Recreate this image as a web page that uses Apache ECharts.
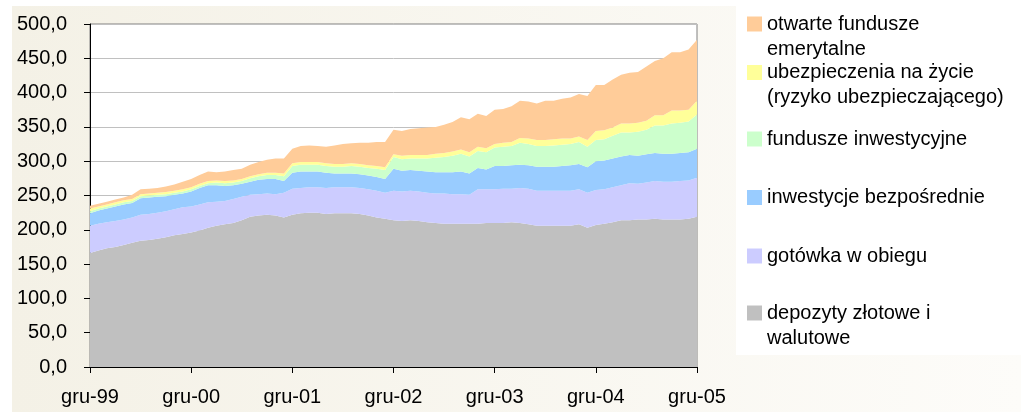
<!DOCTYPE html>
<html>
<head>
<meta charset="utf-8">
<script src="https://cdn.jsdelivr.net/npm/echarts@6/dist/echarts.min.js"></script>
<style>
html,body{margin:0;padding:0;background:#fff;}
#chart{width:1021px;height:412px;}
</style>
</head>
<body>
<div id="chart"></div>
<script>
// Month abbreviations (Polish) used for category labels; data monthly Dec 1999 - Dec 2005
var monthNames = ['sty','lut','mar','kwi','maj','cze','lip','sie','wrz','paź','lis','gru'];
var startYear = 1999, startMonth = 11, monthCount = 73;

// Series values (mld zł), stacked bottom -> top
var depozyty = [166,170,173,175,178,181,184,185,187,189,192,194,196,199,203,206,208,210,214,219,221,222,221,218,222,224,225,225,223,224,224,224,223,221,218,216,214,213,214,213,211,210,209,209,209,209,209,210,210,210,211,210,208,206,206,206,206,206,208,203,207,209,211,214,214,215,215,216,215,215,215,216,219];
var gotowka = [40,39,38,38,37,37,38,38,38,38,38,39,38,38,37,35,34,35,34,32,31,31,31,36,38,37,37,37,38,38,38,38,38,38,39,38,43,43,43,43,43,43,44,43,43,42,50,49,49,50,49,51,52,51,51,51,51,51,51,51,51,50,51,51,54,52,54,55,55,55,56,56,57];
var inwestycje = [18,19,20,21,22,21,24,24,23,22,21,20,22,24,25,24,22,20,19,19,21,21,22,17,23,24,23,23,22,20,20,20,20,20,20,20,32,30,30,30,31,31,31,32,33,31,31,29,34,33,34,34,34,35,35,35,36,37,37,37,42,42,42,42,41,41,41,41,41,41,41,41,42];
var fundusze = [3,3,3,3,3,3,3,3,3,3,3,3,3,3,3,4,4,4,4,5,5,6,6,7,10,10,10,10,10,10,10,11,11,11,12,13,17,17,17,18,19,21,22,24,26,25,25,25,27,28,28,32,31,30,30,31,31,31,32,30,31,31,33,35,33,35,36,40,41,44,44,45,50];
var ubezpieczenia = [4,3,3,3,3,3,3,3,3,3,3,3,3,3,3,3,3,3,3,3,3,3,3,4,4,4,4,4,4,4,4,4,4,4,4,4,4,5,5,5,5,6,6,6,6,6,6,6,5,6,6,7,8,9,9,9,9,8,8,10,13,13,12,13,13,13,13,15,15,19,18,17,20];
var ofe = [4,4,4,4,4,6,7,7,7,8,9,11,12,13,14,12,14,15,15,17,18,19,21,22,21,23,24,23,24,27,29,29,31,33,35,37,36,36,38,39,40,39,41,43,47,48,48,47,50,49,52,54,54,53,57,56,58,60,62,64,67,66,70,71,74,74,79,79,83,85,85,88,89];

var seriesNames = ['depozyty złotowe i walutowe','gotówka w obiegu','inwestycje bezpośrednie','fundusze inwestycyjne','ubezpieczenia na życie (ryzyko ubezpieczającego)','otwarte fundusze emerytalne'];
var legendLabels = ['depozyty złotowe i\nwalutowe','gotówka w obiegu','inwestycje bezpośrednie','fundusze inwestycyjne','ubezpieczenia na życie\n(ryzyko ubezpieczającego)','otwarte fundusze\nemerytalne'];
var seriesColors = ['#C0C0C0','#CCCCFF','#99CCFF','#CCFFCC','#FFFF99','#FFCC99'];
var yTicks = {min:0, max:500, interval:50};

var categories = [];
for (var i = 0; i < monthCount; i++) {
  var m = (startMonth + i) % 12;
  var y = startYear + Math.floor((startMonth + i) / 12);
  categories.push(monthNames[m] + '-' + String(y % 100).padStart(2, '0'));
}

var values = [depozyty, gotowka, inwestycje, fundusze, ubezpieczenia, ofe];
var FONT = '"Liberation Sans", Arial, sans-serif';

var series = values.map(function (v, k) {
  return {
    name: seriesNames[k],
    type: 'line',
    stack: 'total',
    data: v,
    showSymbol: false,
    symbol: 'none',
    lineStyle: {width: 0, color: seriesColors[k]},
    itemStyle: {color: seriesColors[k]},
    areaStyle: {color: seriesColors[k], opacity: 1},
    emphasis: {disabled: true},
    silent: true
  };
});

// Legend layout (top-down order), one legend per entry; icon aligned with first text line
var legendOrder = [5, 4, 3, 2, 1, 0];
var legendCenters = [24, 72.5, 139, 197.5, 256, 313];
var LH = 25;
var legends = legendOrder.map(function (k, j) {
  var twoLine = legendLabels[k].indexOf('\n') >= 0;
  return {
    data: [seriesNames[k]],
    left: 747,
    top: twoLine ? legendCenters[j] - 1.5 * LH : legendCenters[j] - LH / 2,
    orient: 'vertical',
    padding: 0,
    icon: 'rect',
    itemWidth: 15,
    itemHeight: 15,
    selectedMode: false,
    formatter: function () { return twoLine ? '\n' + legendLabels[k] : legendLabels[k]; },
    textStyle: {fontFamily: FONT, fontSize: 20, color: '#000', lineHeight: LH}
  };
});

var chart = echarts.init(document.getElementById('chart'), null, {renderer: 'canvas'});
chart.setOption({
  animation: false,
  backgroundColor: '#ffffff',
  textStyle: {fontFamily: FONT},
  graphic: [
    {type: 'rect', z: -100, silent: true, shape: {x: 12, y: 6, width: 1009, height: 406},
     style: {fill: {type: 'linear', x: 0, y: 0, x2: 1, y2: 0,
       colorStops: [{offset: 0, color: '#F4F1E6'}, {offset: 1, color: '#FDFCF9'}]}}},
    {type: 'rect', z: -99, silent: true, shape: {x: 736, y: 0, width: 285, height: 355},
     style: {fill: '#FFFFFF'}}
  ],
  legend: legends,
  grid: {left: 90, right: 324, top: 24, bottom: 45, show: true, backgroundColor: '#FFFFFF',
         borderColor: '#808080', borderWidth: 1, containLabel: false},
  xAxis: {
    type: 'category',
    data: categories,
    boundaryGap: false,
    axisLine: {show: true, lineStyle: {color: '#000', width: 1}},
    axisTick: {show: true, interval: 11, length: 6, inside: false, lineStyle: {color: '#000'}},
    axisLabel: {interval: 11, margin: 20, fontSize: 20, color: '#000', fontFamily: FONT},
    splitLine: {show: false}
  },
  yAxis: {
    type: 'value',
    min: yTicks.min, max: yTicks.max, interval: yTicks.interval,
    axisLine: {show: true, lineStyle: {color: '#000', width: 1}},
    axisTick: {show: true, length: 6, inside: false, lineStyle: {color: '#000'}},
    axisLabel: {margin: 23, fontSize: 20, color: '#000', fontFamily: FONT,
      formatter: function (v) { return v.toFixed(1).replace('.', ','); }},
    splitLine: {show: true, lineStyle: {color: '#C0C0C0', width: 1}}
  },
  series: series
});
</script>
</body>
</html>
